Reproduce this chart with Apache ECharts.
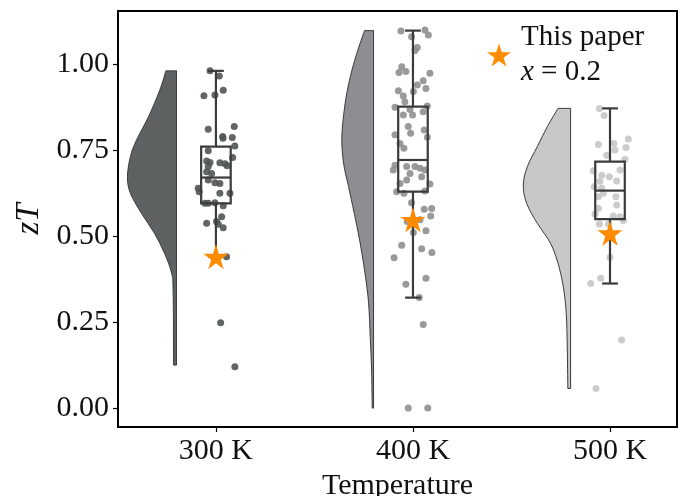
<!DOCTYPE html>
<html>
<head>
<meta charset="utf-8">
<title>zT raincloud</title>
<script src="https://cdn.jsdelivr.net/npm/echarts@6/dist/echarts.min.js"></script>
<style>
  html, body { margin: 0; padding: 0; background: #fff; }
  #chart { width: 681px; height: 496px; }
</style>
</head>
<body>
<div id="chart"></div>
<script>
// categories and tick labels
const categories = ['300 K', '400 K', '500 K'];
const yTicks = [0, 0.25, 0.5, 0.75, 1.0];

// jittered points: [offset from category centre, zT]
const points300 = [
  [-0.030, 0.980], [0.017, 0.965], [0.037, 0.924], [-0.061, 0.908], [-0.005, 0.910],
  [-0.039, 0.810], [0.093, 0.818], [0.034, 0.789], [0.036, 0.784], [0.083, 0.786],
  [0.096, 0.762], [-0.039, 0.748], [0.085, 0.728], [-0.047, 0.718], [-0.030, 0.714],
  [0.020, 0.713], [0.046, 0.710], [0.057, 0.704], [-0.039, 0.702], [-0.047, 0.687],
  [-0.022, 0.682], [-0.090, 0.639], [-0.085, 0.629], [-0.039, 0.663], [-0.005, 0.655],
  [0.020, 0.653], [0.071, 0.624], [0.020, 0.624], [-0.056, 0.595], [-0.039, 0.595],
  [-0.005, 0.597], [0.037, 0.588], [0.029, 0.556], [-0.047, 0.537], [0.003, 0.542],
  [0.012, 0.534], [0.037, 0.524], [0.054, 0.440], [0.024, 0.248], [0.096, 0.120]
];
const points400 = [
  [-0.061, 1.096], [0.061, 1.099], [0.078, 1.084], [-0.007, 1.079], [0.022, 1.048],
  [0.010, 1.039], [-0.057, 0.992], [-0.071, 0.975], [-0.036, 0.978], [0.086, 0.973],
  [0.052, 0.951], [0.022, 0.939], [0.066, 0.929], [-0.074, 0.922], [-0.049, 0.907],
  [0.002, 0.920], [-0.041, 0.890], [-0.091, 0.874], [-0.015, 0.868], [0.073, 0.878],
  [0.052, 0.861], [-0.002, 0.852], [-0.049, 0.852], [-0.024, 0.818], [0.057, 0.808],
  [-0.012, 0.799], [-0.091, 0.794], [0.073, 0.787], [-0.066, 0.769], [-0.046, 0.755],
  [-0.091, 0.706], [-0.100, 0.692], [-0.032, 0.702], [0.010, 0.702], [0.036, 0.697],
  [0.061, 0.692], [-0.015, 0.682], [0.044, 0.672], [-0.032, 0.663], [-0.066, 0.653],
  [0.086, 0.651], [-0.083, 0.629], [-0.046, 0.624], [0.061, 0.631], [-0.007, 0.597],
  [0.057, 0.578], [0.095, 0.580], [0.090, 0.558], [0.036, 0.547], [-0.029, 0.542],
  [0.066, 0.515], [0.002, 0.510], [-0.057, 0.473], [0.044, 0.463], [0.096, 0.452],
  [-0.096, 0.437], [0.066, 0.377], [-0.036, 0.360], [0.032, 0.321], [0.052, 0.243],
  [-0.024, 0.000], [0.075, 0.000]
];
const points500 = [
  [-0.054, 0.871], [-0.030, 0.850], [-0.059, 0.766], [0.020, 0.769], [0.093, 0.782],
  [0.081, 0.757], [0.025, 0.750], [-0.017, 0.735], [0.076, 0.723], [-0.085, 0.690],
  [-0.042, 0.677], [0.051, 0.692], [-0.003, 0.672], [0.034, 0.660], [-0.051, 0.659],
  [-0.080, 0.643], [-0.042, 0.639], [-0.034, 0.624], [0.030, 0.614], [-0.059, 0.614],
  [0.034, 0.590], [-0.059, 0.580], [-0.076, 0.564], [0.017, 0.558], [0.051, 0.556],
  [0.068, 0.545], [-0.054, 0.535], [-0.008, 0.535], [0.000, 0.438], [-0.047, 0.377],
  [-0.098, 0.362], [0.059, 0.198], [-0.071, 0.057]
];

// half-violin outlines (density): zT level and width in x units
const violinY300 = [0.980, 0.924, 0.847, 0.779, 0.731, 0.672, 0.624, 0.566, 0.508, 0.450, 0.392, 0.333, 0.125];
const violinW300 = [0.054, 0.085, 0.142, 0.203, 0.234, 0.249, 0.234, 0.178, 0.112, 0.061, 0.025, 0.017, 0.015];
const violinY400 = [1.097, 1.031, 0.963, 0.886, 0.789, 0.711, 0.644, 0.566, 0.489, 0.402, 0.305, 0.208, 0.111, 0.000];
const violinW400 = [0.046, 0.085, 0.118, 0.144, 0.161, 0.152, 0.127, 0.098, 0.071, 0.046, 0.025, 0.017, 0.010, 0.007];
const violinY500 = [0.871, 0.818, 0.760, 0.701, 0.648, 0.595, 0.537, 0.479, 0.421, 0.353, 0.275, 0.178, 0.057];
const violinW500 = [0.064, 0.118, 0.169, 0.220, 0.240, 0.223, 0.169, 0.102, 0.064, 0.037, 0.022, 0.017, 0.014];

// box statistics per category
const whiskerLow = [0.440, 0.321, 0.362];
const q1 = [0.595, 0.629, 0.549];
const median = [0.670, 0.721, 0.632];
const q3 = [0.760, 0.876, 0.716];
const whiskerHigh = [0.980, 1.097, 0.871];

// "this paper" values
const thisPaper = [0.440, 0.547, 0.508];

const violinFill = ['#5d6161', '#8e8e92', '#c8c8c8'];
const dotColor = ['#505455', '#8f8f8f', '#c6c6c6'];
const starPath = 'path://M100,0 L122.45,69.1 L195.1,69.1 L136.3,111.8 L158.8,180.9 L100,138.2 L41.2,180.9 L63.7,111.8 L4.9,69.1 L77.55,69.1 Z';
const serif = '"Liberation Serif", "DejaVu Serif", serif';

const violinY = [violinY300, violinY400, violinY500];
const violinW = [violinW300, violinW400, violinW500];
const VIOLIN_EDGE = -0.2;   // flat side of the half violin, relative to category
const BOX_HALF = 0.075;
const CAP_HALF = 0.04;

function renderViolin(params, api) {
  const i = params.dataIndex;
  const ys = violinY[i], ws = violinW[i];
  const edge = i + VIOLIN_EDGE;
  const pts = ys.map((v, k) => api.coord([edge - ws[k], v]));
  const top = api.coord([edge, ys[0]]);
  const bot = api.coord([edge, ys[ys.length - 1]]);
  // catmull-rom through the outline points
  let d = 'M' + top[0] + ',' + top[1] + ' L' + pts[0][0] + ',' + pts[0][1];
  for (let k = 0; k < pts.length - 1; k++) {
    const p0 = pts[k - 1] || pts[k], p1 = pts[k], p2 = pts[k + 1], p3 = pts[k + 2] || pts[k + 1];
    const c1 = [p1[0] + (p2[0] - p0[0]) / 6, p1[1] + (p2[1] - p0[1]) / 6];
    const c2 = [p2[0] - (p3[0] - p1[0]) / 6, p2[1] - (p3[1] - p1[1]) / 6];
    d += ' C' + c1[0] + ',' + c1[1] + ' ' + c2[0] + ',' + c2[1] + ' ' + p2[0] + ',' + p2[1];
  }
  d += ' L' + bot[0] + ',' + bot[1] + ' Z';
  return {
    type: 'path',
    shape: { pathData: d },
    style: { fill: violinFill[i], stroke: '#3a3a3a', lineWidth: 1 }
  };
}

function renderBox(params, api) {
  const i = params.dataIndex;
  const lineStyle = { stroke: '#3b3b3b', lineWidth: 2.2, fill: null };
  const a = api.coord([i - BOX_HALF, q3[i]]);
  const b = api.coord([i + BOX_HALF, q1[i]]);
  const m0 = api.coord([i - BOX_HALF, median[i]]);
  const m1 = api.coord([i + BOX_HALF, median[i]]);
  const hiTop = api.coord([i, whiskerHigh[i]]);
  const loBot = api.coord([i, whiskerLow[i]]);
  const capL = api.coord([i - CAP_HALF, 0])[0];
  const capR = api.coord([i + CAP_HALF, 0])[0];
  return {
    type: 'group',
    children: [
      { type: 'line', shape: { x1: hiTop[0], y1: hiTop[1], x2: hiTop[0], y2: a[1] }, style: lineStyle },
      { type: 'line', shape: { x1: loBot[0], y1: b[1], x2: loBot[0], y2: loBot[1] }, style: lineStyle },
      { type: 'line', shape: { x1: capL, y1: hiTop[1], x2: capR, y2: hiTop[1] }, style: lineStyle },
      { type: 'line', shape: { x1: capL, y1: loBot[1], x2: capR, y2: loBot[1] }, style: lineStyle },
      { type: 'rect', shape: { x: a[0], y: a[1], width: b[0] - a[0], height: b[1] - a[1] }, style: lineStyle },
      { type: 'line', shape: { x1: m0[0], y1: m0[1], x2: m1[0], y2: m1[1] }, style: lineStyle }
    ]
  };
}

function dotSeries(list, i) {
  return {
    type: 'scatter',
    data: list.map(p => [i + p[0], p[1]]),
    symbolSize: 7,
    itemStyle: { color: dotColor[i], opacity: 0.9 },
    z: 3,
    silent: true
  };
}

let option = {
  animation: false,
  backgroundColor: '#fff',
  grid: {
    left: 118, right: 4, top: 11, bottom: 69,
    outerBoundsMode: 'none',
    show: true, borderColor: '#000', borderWidth: 2
  },
  legend: {
    data: [{ name: 'This paper', icon: starPath, itemStyle: { color: '#ff8c00', opacity: 1 } }],
    left: 487, top: 20,
    padding: 0,
    itemWidth: 24, itemHeight: 24,
    formatter: () => 'This paper\n{it|x} = 0.2',
    textStyle: {
      fontFamily: serif, fontSize: 29, color: '#111', lineHeight: 35,
      padding: [0, 0, 0, 5],
      rich: { it: { fontFamily: serif, fontSize: 29, fontStyle: 'italic', color: '#111' } }
    }
  },
  xAxis: {
    type: 'value',
    min: -0.497, max: 2.34,
    splitLine: { show: false },
    axisLine: { show: true, onZero: false, lineStyle: { color: '#000', width: 2 } },
    axisTick: { show: true, customValues: [0, 1, 2], length: 5, lineStyle: { color: '#000', width: 1.2 } },
    axisLabel: {
      customValues: [0, 1, 2],
      formatter: v => categories[Math.round(v)],
      fontFamily: serif, fontSize: 30, color: '#111', margin: 9
    },
    name: 'Temperature',
    nameLocation: 'middle',
    nameGap: 44,
    nameTextStyle: { fontFamily: serif, fontSize: 30, color: '#111' }
  },
  yAxis: {
    type: 'value',
    min: -0.055, max: 1.154,
    splitLine: { show: false },
    axisLine: { show: true, onZero: false, lineStyle: { color: '#000', width: 2 } },
    axisTick: { show: true, customValues: yTicks, length: 5, lineStyle: { color: '#000', width: 1.2 } },
    axisLabel: {
      customValues: yTicks,
      formatter: v => v.toFixed(2),
      fontFamily: serif, fontSize: 30, color: '#111', margin: 9
    },
    name: 'zT',
    nameLocation: 'middle',
    nameRotate: 90,
    nameGap: 70,
    nameTextStyle: { fontFamily: serif, fontSize: 33, fontStyle: 'italic', color: '#111' }
  },
  series: [
    {
      type: 'custom',
      data: [[0, 0], [1, 0], [2, 0]],
      renderItem: renderViolin,
      z: 1,
      silent: true
    },
    dotSeries(points300, 0),
    dotSeries(points400, 1),
    dotSeries(points500, 2),
    {
      type: 'custom',
      data: [[0, 0], [1, 0], [2, 0]],
      renderItem: renderBox,
      z: 4,
      silent: true
    },
    {
      name: 'This paper',
      type: 'scatter',
      data: thisPaper.map((v, i) => [i, v]),
      symbol: starPath,
      symbolSize: 25,
      itemStyle: { color: '#ff8c00', opacity: 1 },
      z: 5
    }
  ]
};

let myChart = echarts.init(document.getElementById('chart'));
myChart.setOption(option);
</script>
</body>
</html>
